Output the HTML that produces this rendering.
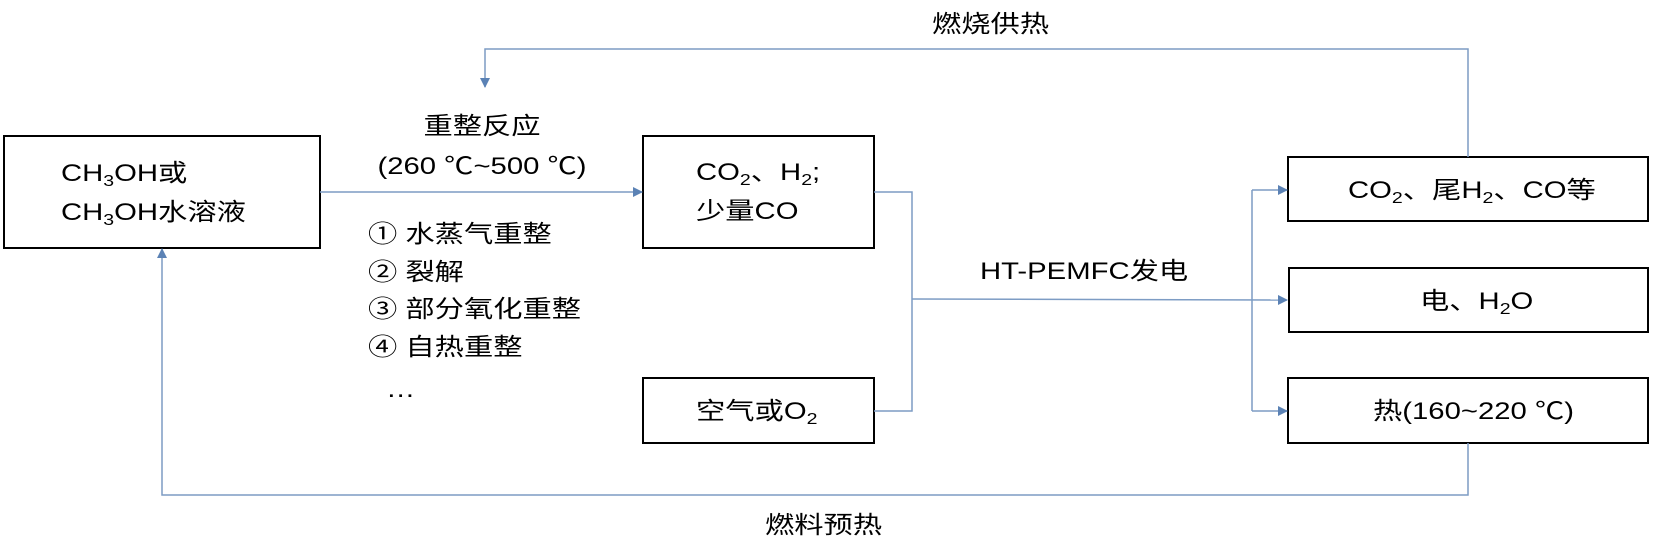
<!DOCTYPE html>
<html><head><meta charset="utf-8"><style>
body{margin:0;background:#fff;}
svg text{font-family:"Liberation Sans","Noto Sans CJK SC",sans-serif;font-size:24px;fill:#000;}
</style></head><body>
<svg width="1654" height="546" viewBox="0 0 1654 546" xmlns="http://www.w3.org/2000/svg">
<defs><marker id="a" markerWidth="10" markerHeight="10" refX="9" refY="5" orient="auto" markerUnits="userSpaceOnUse"><path d="M0,0 L10,5 L0,10 z" fill="#5b82b5"/></marker></defs>
<g fill="none" stroke="#000" stroke-width="2">
<rect x="4" y="136" width="316" height="112"/>
<rect x="643" y="136" width="231" height="112"/>
<rect x="643" y="378" width="231" height="65"/>
<rect x="1288" y="157" width="360" height="64"/>
<rect x="1289" y="268" width="359" height="64"/>
<rect x="1288" y="378" width="360" height="65"/>
</g>
<g fill="none" stroke="#7d9cc4" stroke-width="1.5">
<line x1="320" y1="192" x2="642" y2="192" marker-end="url(#a)"/>
<polyline points="1468,157 1468,49 485,49 485,87" marker-end="url(#a)"/>
<polyline points="1468,443 1468,495 162,495 162,249" marker-end="url(#a)"/>
<polyline points="874,192 912,192 912,411 874,411"/>
<line x1="912" y1="299" x2="1287" y2="300" marker-end="url(#a)"/>
<line x1="1252" y1="190" x2="1252" y2="411"/>
<line x1="1252" y1="190" x2="1287" y2="190" marker-end="url(#a)"/>
<line x1="1252" y1="411" x2="1287" y2="411" marker-end="url(#a)"/>
</g>
<text transform="translate(61 181) scale(1.22 1)">CH<tspan font-size="16" dy="5">3</tspan><tspan dy="-5">OH或</tspan></text>
<text transform="translate(61 220) scale(1.22 1)">CH<tspan font-size="16" dy="5">3</tspan><tspan dy="-5">OH水溶液</tspan></text>
<text transform="translate(482 134) scale(1.22 1)" text-anchor="middle">重整反应</text>
<text transform="translate(482 174) scale(1.22 1)" text-anchor="middle">(260 ℃~500 ℃)</text>
<text transform="translate(368 242) scale(1.22 1)">① 水蒸气重整</text>
<text transform="translate(368 280) scale(1.22 1)">② 裂解</text>
<text transform="translate(368 317) scale(1.22 1)">③ 部分氧化重整</text>
<text transform="translate(368 355) scale(1.22 1)">④ 自热重整</text>
<text transform="translate(386 397) scale(1.22 1)">…</text>
<text transform="translate(696 180) scale(1.22 1)">CO<tspan font-size="16" dy="5">2</tspan><tspan dy="-5">、H</tspan><tspan font-size="16" dy="5">2</tspan><tspan dy="-5">;</tspan></text>
<text transform="translate(696 219) scale(1.22 1)">少量CO</text>
<text transform="translate(696 419) scale(1.22 1)">空气或O<tspan font-size="16" dy="5">2</tspan></text>
<text transform="translate(980 279) scale(1.22 1)">HT-PEMFC发电</text>
<text transform="translate(932 32) scale(1.22 1)">燃烧供热</text>
<text transform="translate(765 533) scale(1.22 1)">燃料预热</text>
<text transform="translate(1348 198) scale(1.22 1)">CO<tspan font-size="16" dy="5">2</tspan><tspan dy="-5">、尾H</tspan><tspan font-size="16" dy="5">2</tspan><tspan dy="-5">、CO等</tspan></text>
<text transform="translate(1420 309) scale(1.22 1)">电、H<tspan font-size="16" dy="5">2</tspan><tspan dy="-5">O</tspan></text>
<text transform="translate(1373 419) scale(1.22 1)">热(160~220 ℃)</text>
</svg>
</body></html>
